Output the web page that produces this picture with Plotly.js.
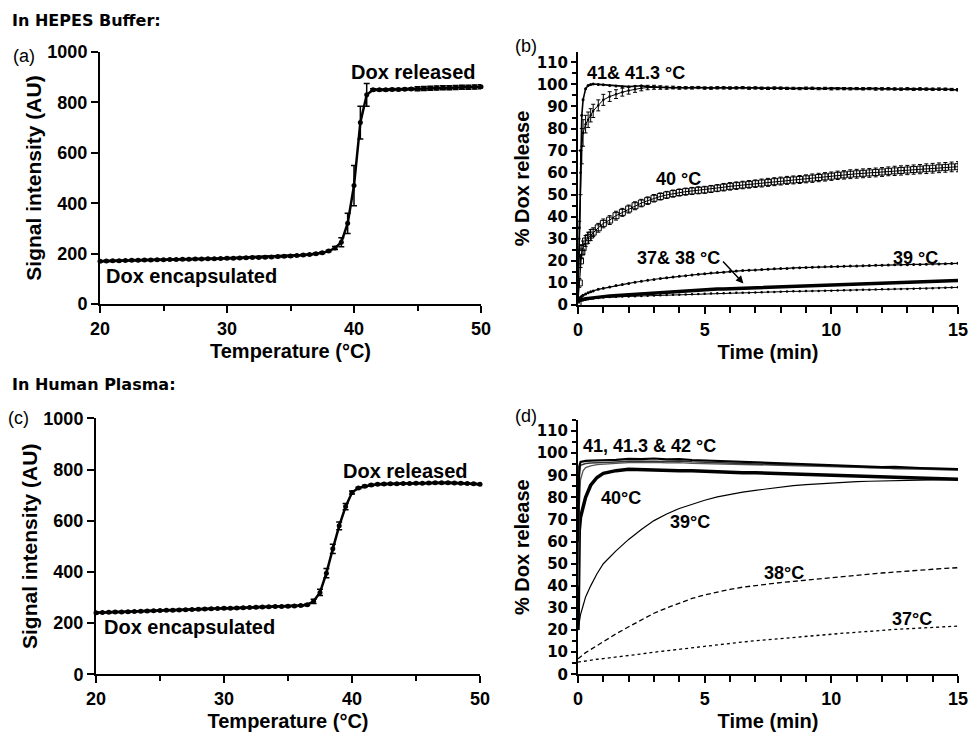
<!DOCTYPE html>
<html><head><meta charset="utf-8">
<script src="https://cdn.plot.ly/plotly-3.0.1.min.js"></script>
<style>html,body{margin:0;padding:0;background:#fff}#chart{width:971px;height:733px}</style>
</head><body><div id="chart"></div>
<script>
// ---------- DATA ----------
// Panels (a) and (c): temperature sweep
const tempA = [20,20.5,21,21.5,22,22.5,23,23.5,24,24.5,
  25,25.5,26,26.5,27,27.5,28,28.5,29,29.5,
  30,30.5,31,31.5,32,32.5,33,33.5,34,34.5,
  35,35.5,36,36.5,37,37.5,38,38.5,39,39.5,
  40,40.5,41,41.5,42,42.5,43,43.5,44,44.5,
  45,45.5,46,46.5,47,47.5,48,48.5,49,49.5,50];
const signalHepes = [170,171,172,172,173,174,174,175,175,176,
  176,177,177,178,178,179,179,180,180,181,
  182,182,183,184,185,185,186,187,188,189,
  190,192,194,196,199,203,210,222,245,320,
  470,720,830,850,850,850,851,851,852,853,
  854,855,856,857,858,858,859,860,860,861,862];
const errHepes = [3,3,3,3,3,3,3,3,3,3,
  3,3,3,3,3,3,3,3,3,3,
  3,3,3,3,3,3,3,3,3,3,
  3,3,3,3,3,3,3,6,18,40,
  80,65,45,4,4,4,4,4,4,4,
  8,8,8,8,8,8,8,8,8,8,8];
const signalPlasma = [240,241,242,243,243,244,245,246,247,248,
  249,250,250,251,252,253,254,255,256,257,
  258,258,259,260,261,262,263,264,265,265,
  266,267,269,272,285,320,395,490,580,655,
  710,728,735,739,742,743,744,744,745,745,
  746,746,747,748,748,748,747,746,745,744,742];
const errPlasma = [3,3,3,3,3,3,3,3,3,3,
  3,3,3,3,3,3,3,3,3,3,
  3,3,3,3,3,3,3,3,3,3,
  3,3,3,3,8,12,18,18,15,12,
  6,3,3,3,3,3,3,3,3,3,
  3,3,3,3,3,3,3,3,3,3,3];

// Panel (b): HEPES buffer time course
const timeB = [0,0.05,0.1,0.15,0.2,0.3,0.4,0.5,0.6,0.8,1,
  1.25,1.5,1.75,2, 2.25,2.5,2.75,3, 3.25,3.5,3.75,4, 4.25,4.5,4.75,5,
  5.25,5.5,5.75,6, 6.25,6.5,6.75,7, 7.25,7.5,7.75,8, 8.25,8.5,8.75,9,
  9.25,9.5,9.75,10, 10.25,10.5,10.75,11, 11.25,11.5,11.75,12,
  12.25,12.5,12.75,13, 13.25,13.5,13.75,14, 14.25,14.5,14.75,15];
const hepes413 = [2,35,70,86,93,98,99.5,100,100.2,100,99.8,
  99.5,99.3,99,99, 99.2,99.4,99,98.8, 98.6,98.7,98.5,98.6, 98.4,98.6,98.5,98.3,
  98.5,98.4,98.6,98.3, 98.5,98.6,98.4,98.5, 98.3,98.4,98.2,98.4, 98.3,98.1,98.3,98.2,
  98.4,98.2,98.1,98.3, 98.2,98.0,98.2,98.1, 98.0,98.2,98.1,97.9,
  98.1,98.0,97.8,98.0, 97.9,98.1,97.8,97.9, 97.8,97.9,97.7,97.5];
const hepes41 = [2,30,60,72,78,82,84,86,88,90.5,93,
  94.5,95.6,96.5,97.2, 97.8,98.3,98.6,98.7, 98.6,98.5,98.6,98.4, 98.5,98.4,98.6,98.4,
  98.3,98.5,98.4,98.4, 98.4,98.5,98.3,98.4, 98.3,98.2,98.4,98.3, 98.2,98.2,98.1,98.3,
  98.2,98.1,98.2,98.0, 98.1,98.1,98.0,98.1, 98.0,98.1,97.9,98.0,
  98.0,97.9,97.9,98.0, 97.8,97.9,97.9,97.8, 97.9,97.8,97.7,97.6];
const err41 = [0,8,10,8,6,4,3.5,3,3,2.5,2.5,
  2.2,2,1.8,1.6, 1.4,1.2,1,0.9, 0.8,0.7,0.6,0.6, 0.5,0.5,0.5,0.5,
  0.5,0.5,0.5,0.5, 0.5,0.5,0.5,0.5, 0.5,0.5,0.5,0.5, 0.5,0.5,0.5,0.5,
  0.5,0.5,0.5,0.5, 0.5,0.5,0.5,0.5, 0.5,0.5,0.5,0.5,
  0.5,0.5,0.5,0.5, 0.5,0.5,0.5,0.5, 0.5,0.5,0.5,0.5];
const hepes40 = [1,10,20,24,26,29,30.5,31.7,33,35,37,
  38.5,40.5,42,43.5, 45,46.2,47.3,48.4, 49.2,49.9,50.5,51, 51.4,51.7,52,52.2,
  52.6,53,53.4,53.8, 54.1,54.4,54.7,55, 55.3,55.6,55.9,56.2, 56.5,56.7,56.9,57.2,
  57.5,57.8,58.1,58.4, 58.8,59,59.3,59.5, 59.7,59.9,60.1,60.3,
  60.6,60.8,61,61.2, 61.4,61.6,61.8,62, 62.2,62.4,62.6,62.7];
const err40 = [0,2,3,3,3,2.5,2.5,2.5,2,2,2,
  2,2,1.8,1.8, 1.8,1.7,1.7,1.7, 1.6,1.6,1.6,1.6, 1.6,1.6,1.6,1.6,
  1.6,1.6,1.7,1.7, 1.7,1.7,1.7,1.7, 1.8,1.8,1.8,1.8, 1.8,1.8,1.8,1.8,
  1.9,1.9,1.9,1.9, 1.9,1.9,2,2, 2,2,2,2,
  2,2.1,2.1,2.1, 2.1,2.1,2.2,2.2, 2.2,2.2,2.2,2.3];
const hepes39 = [2.5,3,3.5,4,4.4,5,5.5,6,6.4,7.1,7.6,
  8.2,8.8,9.3,9.8, 10.3,10.8,11.2,11.6, 12,12.3,12.7,13, 13.3,13.6,13.9,14.2,
  14.5,14.7,14.9,15.2, 15.4,15.6,15.7,15.9, 16.1,16.2,16.4,16.5, 16.6,16.8,16.9,17,
  17.1,17.2,17.3,17.4, 17.5,17.6,17.7,17.7, 17.8,17.9,18,18,
  18.1,18.2,18.2,18.3, 18.4,18.4,18.5,18.6, 18.6,18.7,18.8,18.9];
const hepes38 = [2,2.2,2.4,2.5,2.6,2.8,3,3.2,3.4,3.6,3.8,
  4.1,4.3,4.5,4.7, 4.9,5.1,5.3,5.5, 5.7,5.9,6.1,6.3, 6.5,6.6,6.8,7,
  7.1,7.2,7.3,7.4, 7.5,7.6,7.7,7.8, 7.9,8,8.1,8.2, 8.3,8.4,8.5,8.6,
  8.7,8.8,8.9,9, 9.1,9.2,9.3,9.4, 9.5,9.6,9.7,9.8,
  9.9,10,10.1,10.2, 10.3,10.4,10.5,10.6, 10.7,10.8,10.9,11.1];
const hepes37 = [1.8,1.9,2,2.1,2.2,2.4,2.6,2.8,3,3.2,3.4,
  3.6,3.7,3.8,3.9, 4,4.1,4.2,4.3, 4.4,4.5,4.6,4.7, 4.8,4.9,5,5.1,
  5.2,5.3,5.3,5.4, 5.5,5.6,5.6,5.7, 5.8,5.9,5.9,6, 6.1,6.2,6.2,6.3,
  6.4,6.4,6.5,6.5, 6.6,6.7,6.7,6.8, 6.9,6.9,7,7.1,
  7.1,7.2,7.3,7.3, 7.4,7.5,7.5,7.6, 7.7,7.8,7.9,8];

// Panel (d): human plasma time course
const timeD = [0,0.05,0.1,0.2,0.3,0.5,0.75,1,1.25,
  1.5,2,2.5,3,3.5,4,4.5,5,5.5,6,6.5,7,7.5,8,8.5,9,9.5,10,
  10.5,11,11.5,12,12.5,13,13.5,14,14.5,15];
const plasma42 = [60,94,96,96.3,96.5,96.6,96.8,96.7,96.9,
  97,97.4,97.3,97.6,97.2,97.3,96.9,96.7,96.5,96.3,96.1,95.8,95.4,95.5,95.2,94.9,94.7,94.6,
  94.3,94.1,93.9,93.7,93.8,93.4,93.3,93.1,92.9,92.8];
const plasma413 = [50,90,94.5,95,95.3,95.5,95.7,95.8,95.9,
  96,96.3,96.5,96.4,96.2,96.5,96.1,95.9,95.8,95.5,95.6,95.2,95.1,94.8,94.9,94.5,94.4,94.2,
  93.9,93.8,93.5,93.4,93.1,93.2,92.8,92.7,92.6,92.5];
const plasma41 = [40,75,88,92,93.5,94.3,94.8,95.1,95.3,
  95.4,95.7,95.8,95.9,95.6,95.7,95.4,95.3,95.1,95,94.8,94.9,94.6,94.4,94.5,94.2,94,93.9,
  93.7,93.5,93.4,93.2,93,92.9,92.8,92.6,92.5,92.3];
const plasma40 = [20,65,71,76,80,85.5,89,90.9,91.6,
  92.1,92.7,92.5,92.3,92.4,92,92.1,91.8,91.6,91.5,91.2,91.1,90.9,90.7,90.6,90.3,90.2,90,
  89.7,89.6,89.3,89.2,88.9,88.8,88.6,88.5,88.3,88.2];
const plasma39 = [20,24,27,31,35,40,45.5,50,53,
  55.8,61,65.5,69.5,72.5,75,77,78.7,80.2,81.4,82.4,83.2,84,84.7,85.3,85.8,86.2,86.6,
  86.9,87.1,87.3,87.5,87.6,87.7,87.8,87.9,88,88];
const plasma38 = [7,7.5,8.2,9,9.8,11.2,13,14.8,16.5,
  18.3,21.5,24.7,27.6,30,32.3,34.3,35.9,37.2,38.4,39.4,40.2,40.9,41.5,42,42.6,43.2,43.8,
  44.3,44.8,45.3,45.8,46.3,46.7,47.1,47.5,47.9,48.2];
const plasma37 = [5.5,5.6,5.7,5.9,6.1,6.4,6.8,7.1,7.4,
  7.7,8.4,9.2,10,10.7,11.4,12,12.6,13.2,13.9,14.6,15.2,15.7,16.2,16.8,17.4,17.8,18.2,
  18.6,19,19.5,19.9,20.3,20.6,20.9,21.2,21.5,21.8];

// ---------- STYLE ----------
const W = 971, H = 733;
const xd = (a, b) => [a / W, b / W];
const yd = (top, bottom) => [1 - bottom / H, 1 - top / H];
const ARIAL = 'Liberation Sans, Arial, sans-serif';
const DEJA = 'DejaVu Sans, sans-serif';
const tickFont = {family: ARIAL, size: 18, color: '#000', weight: 'bold'};
const tickFontSmall = {family: DEJA, size: 15, color: '#000', weight: 'bold'};
const titleFont = {family: ARIAL, size: 20, color: '#000', weight: 'bold'};

function mainAxis(o) {
  return Object.assign({
    showgrid: false, zeroline: false, showline: true, linewidth: 2, linecolor: '#000',
    ticks: 'outside', ticklen: 7, tickwidth: 2, tickcolor: '#000', tickfont: tickFont,
    fixedrange: true
  }, o);
}
function mirrorAxis(o) {
  return Object.assign({
    showgrid: false, zeroline: false, showline: true, linewidth: 2, linecolor: '#000',
    ticks: 'inside', ticklen: 6, tickwidth: 2, tickcolor: '#000', showticklabels: false,
    fixedrange: true
  }, o);
}

const dA = xd(100, 481), dAy = yd(52, 304);
const dB = xd(578, 958), dBy = yd(52, 305);
const dC = xd(96, 480), dCy = yd(418.3, 674.3);
const dD = xd(578, 958), dDy = yd(420, 674.3);

const blk = '#000';
const traces = [
  {x: tempA, y: signalHepes, xaxis: 'x', yaxis: 'y', mode: 'lines+markers', cliponaxis: false,
   line: {color: blk, width: 2.5}, marker: {color: blk, size: 5},
   error_y: {type: 'data', array: errHepes, color: blk, thickness: 1.5, width: 3}},
  // panel b
  {x: timeB, y: hepes38, xaxis: 'x2', yaxis: 'y2', mode: 'lines', line: {color: blk, width: 3.5}},
  {x: timeB, y: hepes37, xaxis: 'x2', yaxis: 'y2', mode: 'lines+markers',
   line: {color: blk, width: 1}, marker: {color: blk, size: 2.5}},
  {x: timeB, y: hepes39, xaxis: 'x2', yaxis: 'y2', mode: 'lines+markers',
   line: {color: blk, width: 1.2}, marker: {color: blk, size: 3}},
  {x: timeB, y: hepes40, xaxis: 'x2', yaxis: 'y2', mode: 'lines+markers',
   line: {color: blk, width: 1}, marker: {symbol: 'square-open', color: blk, size: 6, line: {width: 1}},
   error_y: {type: 'data', array: err40, color: blk, thickness: 1, width: 2}},
  {x: timeB, y: hepes41, xaxis: 'x2', yaxis: 'y2', mode: 'lines+markers',
   line: {color: blk, width: 1}, marker: {color: blk, size: 2.5},
   error_y: {type: 'data', array: err41, color: blk, thickness: 1, width: 2}},
  {x: timeB, y: hepes413, xaxis: 'x2', yaxis: 'y2', mode: 'lines+markers',
   line: {color: blk, width: 1.6}, marker: {color: blk, size: 3}},
  // panel c
  {x: tempA, y: signalPlasma, xaxis: 'x3', yaxis: 'y3', mode: 'lines+markers', cliponaxis: false,
   line: {color: blk, width: 2.5}, marker: {color: blk, size: 5},
   error_y: {type: 'data', array: errPlasma, color: blk, thickness: 1.5, width: 3}},
  // panel d
  {x: timeD, y: plasma37, xaxis: 'x4', yaxis: 'y4', mode: 'lines', line: {color: blk, width: 1.3, dash: 'dot'}},
  {x: timeD, y: plasma38, xaxis: 'x4', yaxis: 'y4', mode: 'lines', line: {color: blk, width: 1.3, dash: '5px,3px'}},
  {x: timeD, y: plasma39, xaxis: 'x4', yaxis: 'y4', mode: 'lines', line: {color: blk, width: 1.2}},
  {x: timeD, y: plasma40, xaxis: 'x4', yaxis: 'y4', mode: 'lines', line: {color: blk, width: 3.5}},
  {x: timeD, y: plasma41, xaxis: 'x4', yaxis: 'y4', mode: 'lines', line: {color: '#555', width: 1.3}},
  {x: timeD, y: plasma413, xaxis: 'x4', yaxis: 'y4', mode: 'lines', line: {color: '#333', width: 1.5}},
  {x: timeD, y: plasma42, xaxis: 'x4', yaxis: 'y4', mode: 'lines', line: {color: blk, width: 2.2}}
];

const tempMinor = {dtick: 5, ticklen: 5, tickwidth: 2, tickcolor: '#000', ticks: 'outside'};
const tempMinorIn = {dtick: 5, ticklen: 6, tickwidth: 2, tickcolor: '#000', ticks: 'inside'};
const timeMinor = {dtick: 1, ticklen: 6, tickwidth: 2, tickcolor: '#000', ticks: 'outside'};
const timeMinorIn = {dtick: 1, ticklen: 5, tickwidth: 2, tickcolor: '#000', ticks: 'inside'};
const pctMinor = {dtick: 5, ticklen: 4, tickwidth: 2, tickcolor: '#000', ticks: 'outside'};
const pctMinorIn = {dtick: 5, ticklen: 5, tickwidth: 2, tickcolor: '#000', ticks: 'inside'};

const layout = {
  width: W, height: H, margin: {l: 0, r: 0, t: 0, b: 0},
  paper_bgcolor: '#fff', plot_bgcolor: 'rgba(0,0,0,0)', showlegend: false,
  // (a)
  xaxis: mainAxis({domain: dA, anchor: 'y', range: [20, 50], tick0: 20, dtick: 10, minor: tempMinor,
    title: {text: 'Temperature (°C)', font: titleFont, standoff: 6}}),
  yaxis: mainAxis({domain: dAy, anchor: 'x', range: [0, 1000], tick0: 0, dtick: 200,
    title: {text: 'Signal intensity (AU)', font: Object.assign({}, titleFont, {size: 21}), standoff: 0}}),
  xaxis5: mirrorAxis({overlaying: 'x', anchor: 'y', side: 'top', range: [20, 50], tick0: 20, dtick: 10, minor: tempMinorIn}),
  yaxis5: mirrorAxis({overlaying: 'y', anchor: 'x', side: 'right', range: [0, 1000], tick0: 0, dtick: 200}),
  // (b)
  xaxis2: mainAxis({domain: dB, anchor: 'y2', range: [0, 15], tick0: 0, dtick: 5, minor: timeMinor,
    title: {text: 'Time (min)', font: titleFont, standoff: 6}}),
  yaxis2: mainAxis({domain: dBy, anchor: 'x2', range: [0, 114.7], tick0: 0, dtick: 10, ticklen: 5,
    tickfont: tickFontSmall, minor: pctMinor,
    title: {text: '% Dox release', font: titleFont, standoff: 2}}),
  xaxis6: mirrorAxis({overlaying: 'x2', anchor: 'y2', side: 'top', range: [0, 15], tick0: 0, dtick: 5, ticklen: 5, minor: timeMinorIn}),
  yaxis6: mirrorAxis({overlaying: 'y2', anchor: 'x2', side: 'right', range: [0, 114.7], tick0: 0, dtick: 10, ticklen: 5, minor: pctMinorIn}),
  // (c)
  xaxis3: mainAxis({domain: dC, anchor: 'y3', range: [20, 50], tick0: 20, dtick: 10, minor: tempMinor,
    title: {text: 'Temperature (°C)', font: titleFont, standoff: 6}}),
  yaxis3: mainAxis({domain: dCy, anchor: 'x3', range: [0, 1000], tick0: 0, dtick: 200,
    title: {text: 'Signal intensity (AU)', font: Object.assign({}, titleFont, {size: 21}), standoff: 0}}),
  xaxis7: mirrorAxis({overlaying: 'x3', anchor: 'y3', side: 'top', range: [20, 50], tick0: 20, dtick: 10, minor: tempMinorIn}),
  yaxis7: mirrorAxis({overlaying: 'y3', anchor: 'x3', side: 'right', range: [0, 1000], tick0: 0, dtick: 200}),
  // (d)
  xaxis4: mainAxis({domain: dD, anchor: 'y4', range: [0, 15], tick0: 0, dtick: 5, minor: timeMinor,
    title: {text: 'Time (min)', font: titleFont, standoff: 6}}),
  yaxis4: mainAxis({domain: dDy, anchor: 'x4', range: [0, 115], tick0: 0, dtick: 10, ticklen: 5,
    tickfont: tickFontSmall, minor: pctMinor,
    title: {text: '% Dox release', font: titleFont, standoff: 2}}),
  xaxis8: mirrorAxis({overlaying: 'x4', anchor: 'y4', side: 'top', range: [0, 15], tick0: 0, dtick: 5, ticklen: 5, minor: timeMinorIn}),
  yaxis8: mirrorAxis({overlaying: 'y4', anchor: 'x4', side: 'right', range: [0, 115], tick0: 0, dtick: 10, ticklen: 5, minor: pctMinorIn}),
  annotations: []
};

const ann = layout.annotations;
function paperText(text, px, py, font) {
  ann.push({text: text, xref: 'paper', yref: 'paper', x: px / W, y: 1 - py / H,
    xanchor: 'left', yanchor: 'middle', showarrow: false, font: font});
}
const headFont = {family: DEJA, size: 16, color: '#000', weight: 'bold'};
const letterFont = {family: ARIAL, size: 18, color: '#000'};
paperText('In HEPES Buffer:', 10, 21, headFont);
paperText('In Human Plasma:', 10, 384, headFont);
paperText('(a)', 11, 56, letterFont);
paperText('(b)', 513, 46, letterFont);
paperText('(c)', 6, 418, letterFont);
paperText('(d)', 513, 416, letterFont);

function dataText(text, xr, yr, x, y, size) {
  ann.push({text: text, xref: xr, yref: yr, x: x, y: y, xanchor: 'center', yanchor: 'middle',
    showarrow: false, font: {family: ARIAL, size: size, color: '#000', weight: 'bold'}});
}
dataText('Dox released', 'x', 'y', 44.7, 920, 20);
dataText('Dox encapsulated', 'x', 'y', 27.2, 111, 20);
dataText('Dox released', 'x3', 'y3', 44.2, 796, 20);
dataText('Dox encapsulated', 'x3', 'y3', 27.3, 183, 20);
dataText('41& 41.3 °C', 'x2', 'y2', 2.28, 105, 18);
dataText('40 °C', 'x2', 'y2', 3.95, 57.1, 18);
dataText('37& 38 °C', 'x2', 'y2', 3.98, 21.5, 18);
dataText('39 °C', 'x2', 'y2', 13.33, 21.5, 18);
dataText('41, 41.3 & 42 °C', 'x4', 'y4', 2.81, 103.1, 18);
dataText('40°C', 'x4', 'y4', 1.68, 79.6, 18);
dataText('39°C', 'x4', 'y4', 4.41, 69, 18);
dataText('38°C', 'x4', 'y4', 8.12, 45.8, 18);
dataText('37°C', 'x4', 'y4', 13.18, 24.9, 18);
ann.push({text: '', xref: 'x2', yref: 'y2', axref: 'x2', ayref: 'y2', x: 6.53, y: 9.8, ax: 5.67, ay: 20.4,
  showarrow: true, arrowhead: 2, arrowsize: 1, arrowwidth: 1.5, arrowcolor: '#000'});

Plotly.newPlot('chart', traces, layout, {staticPlot: true, displayModeBar: false});
</script></body></html>
